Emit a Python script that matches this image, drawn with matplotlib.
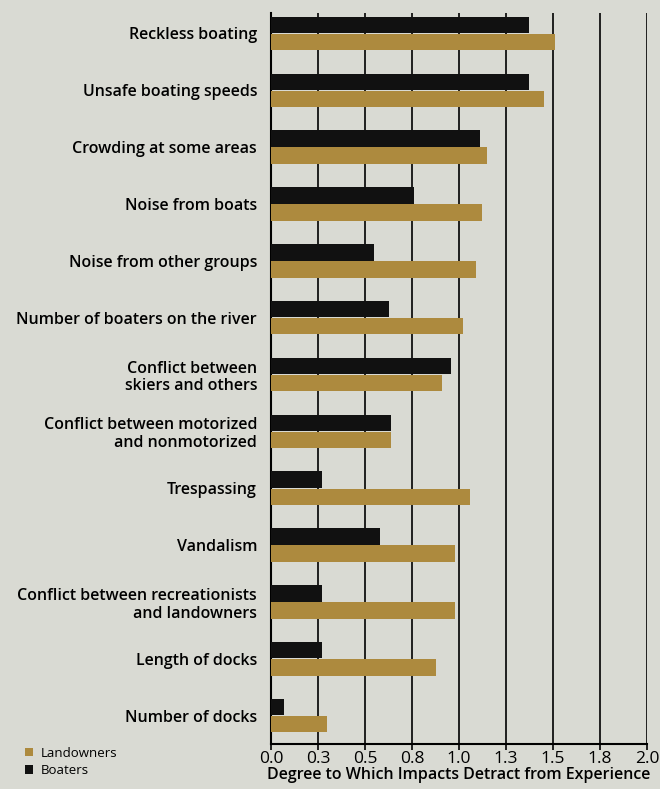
import matplotlib.pyplot as plt
import numpy as np

categories = [
    "Reckless boating",
    "Unsafe boating speeds",
    "Crowding at some areas",
    "Noise from boats",
    "Noise from other groups",
    "Number of boaters on the river",
    "Conflict between\nskiers and others",
    "Conflict between motorized\nand nonmotorized",
    "Trespassing",
    "Vandalism",
    "Conflict between recreationists\nand landowners",
    "Length of docks",
    "Number of docks",
]
boaters = [1.37, 1.37, 1.11, 0.76, 0.55, 0.63, 0.96, 0.64, 0.27, 0.58, 0.27, 0.27, 0.07]
landowners = [1.51, 1.45, 1.15, 1.12, 1.09, 1.02, 0.91, 0.64, 1.06, 0.98, 0.98, 0.88, 0.30]
tick_vals = [0.0, 0.25, 0.5, 0.75, 1.0, 1.25, 1.5, 1.75, 2.0]
tick_labels = ["0.0", "0.3", "0.5", "0.8", "1.0", "1.3", "1.5", "1.8", "2.0"]

bg = "#d9dad3"
tan = "#ad8a3e"
dark = "#111111"

plt.rcParams['font.family'] = ['Open Sans', 'DejaVu Sans']

fig = plt.figure(figsize=(6.6, 7.89), dpi=100, facecolor=bg)
ax = fig.add_axes([0.4106, 0.057, 0.5697, 0.9265])
ax.set_facecolor(bg)

y = np.arange(len(categories))
h = 0.29
ax.barh(y - 0.15, boaters, height=h, color=dark, label="Boaters", zorder=3)
ax.barh(y + 0.15, landowners, height=h, color=tan, label="Landowners", zorder=3)

for v in tick_vals[1:]:
    ax.axvline(v, color="black", lw=1.2, zorder=1)

ax.set_xlim(0, 2.0)
ax.set_ylim(12.5, -0.36)
ax.set_xticks(tick_vals)
ax.set_xticklabels(tick_labels, fontsize=12.5)
ax.tick_params(axis="x", direction="out", length=4, width=1.2, pad=1, colors="black")
ax.set_yticks(y)
ax.set_yticklabels(categories, fontsize=11.5, fontweight="semibold", linespacing=1.15)
ax.tick_params(axis="y", length=0, pad=10)

for s in ["top", "right"]:
    ax.spines[s].set_visible(False)
ax.spines["left"].set_linewidth(1.5)
ax.spines["bottom"].set_linewidth(1.5)

ax.set_xlabel("Degree to Which Impacts Detract from Experience", fontsize=11.5,
              fontweight="semibold", labelpad=0)

handles, labels = ax.get_legend_handles_labels()
fig.legend(handles[::-1], labels[::-1], loc="lower left", bbox_to_anchor=(0.02, 0.0),
           frameon=False, fontsize=9.5, handlelength=0.6, handleheight=0.6,
           handletextpad=0.6, labelspacing=0.35)

fig.savefig("out.png", dpi=100, facecolor=bg)
